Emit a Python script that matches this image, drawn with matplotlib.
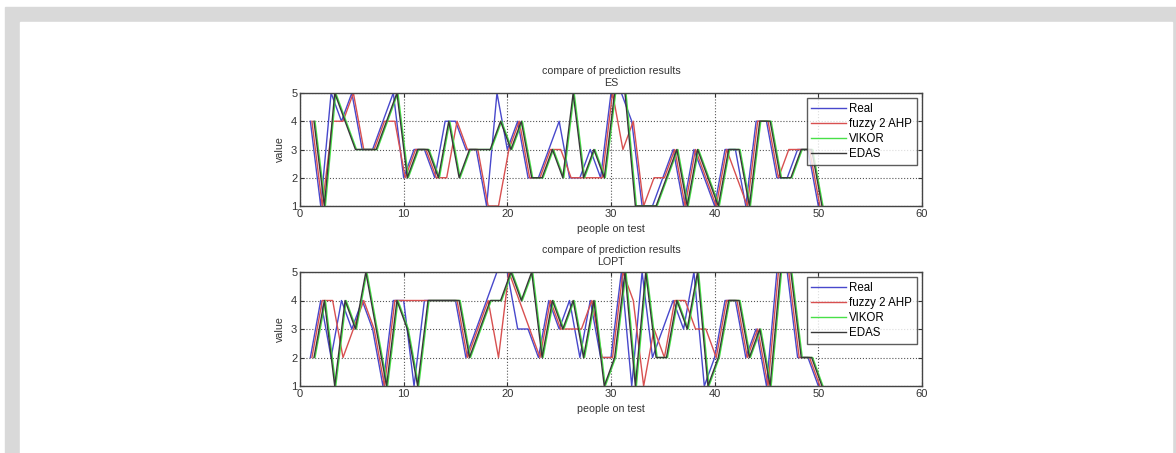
import matplotlib.pyplot as plt
import numpy as np
from matplotlib.patches import Rectangle

plt.rcParams['font.family'] = ['Liberation Sans', 'DejaVu Sans']

people = np.arange(1, 51)
labels = ['Real', 'fuzzy 2 AHP', 'VIKOR', 'EDAS']

# ES
es_real = [4, 1, 5, 4, 5, 3, 3, 4, 5, 2, 3, 3, 2, 4, 4, 3, 3, 1, 5, 3,
           4, 2, 2, 3, 4, 2, 2, 3, 2, 5, 5, 4, 1, 1, 2, 3, 1, 3, 2, 1,
           3, 3, 1, 4, 4, 2, 2, 3, 3, 1]
es_fuzzy = [4, 1, 4, 4, 5, 3, 3, 4, 4, 2, 3, 3, 2, 2, 4, 3, 3, 1, 1, 3,
            4, 2, 2, 3, 3, 2, 2, 2, 2, 5, 3, 4, 1, 2, 2, 3, 1, 3, 2, 1,
            3, 2, 1, 4, 4, 2, 3, 3, 3, 1]
es_vikor = [4, 1, 5, 4, 3, 3, 3, 4, 5, 2, 3, 3, 2, 4, 2, 3, 3, 3, 4, 3,
            4, 2, 2, 3, 2, 5, 2, 3, 2, 5, 5, 1, 1, 1, 2, 3, 1, 3, 2, 1,
            3, 3, 1, 4, 4, 2, 2, 3, 3, 1]
es_edas = [4, 1, 5, 4, 3, 3, 3, 4, 5, 2, 3, 3, 2, 4, 2, 3, 3, 3, 4, 3,
           4, 2, 2, 3, 2, 5, 2, 3, 2, 5, 5, 1, 1, 1, 2, 3, 1, 3, 2, 1,
           3, 3, 1, 4, 4, 2, 2, 3, 3, 1]

# LOPT
lo_real = [2, 4, 2, 4, 3, 4, 3, 1, 4, 4, 1, 4, 4, 4, 4, 2, 3, 4, 5, 5,
           3, 3, 2, 4, 3, 4, 2, 4, 2, 2, 5, 1, 5, 2, 3, 4, 3, 5, 1, 2,
           4, 4, 2, 3, 1, 5, 5, 2, 2, 1]
lo_fuzzy = [2, 4, 4, 2, 3, 4, 3, 1, 4, 4, 4, 4, 4, 4, 4, 2, 3, 4, 2, 5,
            4, 3, 2, 4, 3, 3, 3, 4, 2, 2, 5, 4, 1, 3, 2, 4, 4, 3, 3, 2,
            4, 4, 2, 3, 1, 5, 5, 2, 2, 1]
lo_vikor = [2, 4, 1, 4, 3, 5, 3, 1, 4, 3, 1, 4, 4, 4, 4, 2, 3, 4, 4, 5,
            4, 5, 2, 4, 3, 4, 2, 4, 1, 2, 5, 1, 5, 2, 2, 4, 3, 5, 1, 2,
            4, 4, 2, 3, 1, 5, 5, 2, 2, 1]
lo_edas = [2, 4, 1, 4, 3, 5, 3, 1, 4, 3, 1, 4, 4, 4, 4, 2, 3, 4, 4, 5,
           4, 5, 2, 4, 3, 4, 2, 4, 1, 2, 5, 1, 5, 2, 2, 4, 3, 5, 1, 2,
           4, 4, 2, 3, 1, 5, 5, 2, 2, 1]

shift = [0.0, 0.15, 0.45, 0.35]
colors = ['#4848cc', '#d85050', '#48e048', '#383838']

fig = plt.figure(figsize=(11.76, 4.53), dpi=100)

# grey page frame
gray = '#d9d9d9'
fig.patches.append(Rectangle((5 / 1176, 0), 1171 / 1176, 1 - 7 / 453,
                             transform=fig.transFigure, color=gray, zorder=-2))
fig.patches.append(Rectangle((20 / 1176, 0), 1152 / 1176, 1 - 22 / 453,
                             transform=fig.transFigure, color='white', zorder=-1))


def panel(ax, series, name):
    for s, dx, c, lab in zip(series, shift, colors, labels):
        ax.plot(people + dx, s, color=c, lw=1.0, label=lab)
    ax.set_xlim(0, 60)
    ax.set_ylim(1, 5)
    ax.set_xticks(range(0, 61, 10))
    ax.set_yticks(range(1, 6))
    ax.grid(True, linestyle=':', color='#555555', lw=0.8)
    ax.tick_params(direction='in', top=True, right=True, labelsize=8,
                   colors='#333333', length=3, pad=2)
    for sp in ax.spines.values():
        sp.set_color('#444444')
        sp.set_linewidth(1.0)
    ax.set_title('compare of prediction results\n' + name, fontsize=7.7, color='#333333',
                 pad=5, linespacing=1.2)
    ax.set_xlabel('people on test', fontsize=7.7, color='#333333', labelpad=4)
    ax.set_ylabel('value', fontsize=7.7, color='#333333', labelpad=4)
    leg = ax.legend(loc='upper right', fontsize=8.3, fancybox=False, handlelength=3.0,
                    borderpad=0.4, labelspacing=0.28, handletextpad=0.3,
                    borderaxespad=0.45)
    leg.get_frame().set_edgecolor('#333333')
    leg.get_frame().set_linewidth(1.0)


ax1 = fig.add_axes([300 / 1176, 1 - 206 / 453, 622 / 1176, 113 / 453])
panel(ax1, [es_real, es_fuzzy, es_vikor, es_edas], 'ES')
ax2 = fig.add_axes([300 / 1176, 1 - 386 / 453, 622 / 1176, 114 / 453])
panel(ax2, [lo_real, lo_fuzzy, lo_vikor, lo_edas], 'LOPT')

fig.savefig('out.png', dpi=100)
